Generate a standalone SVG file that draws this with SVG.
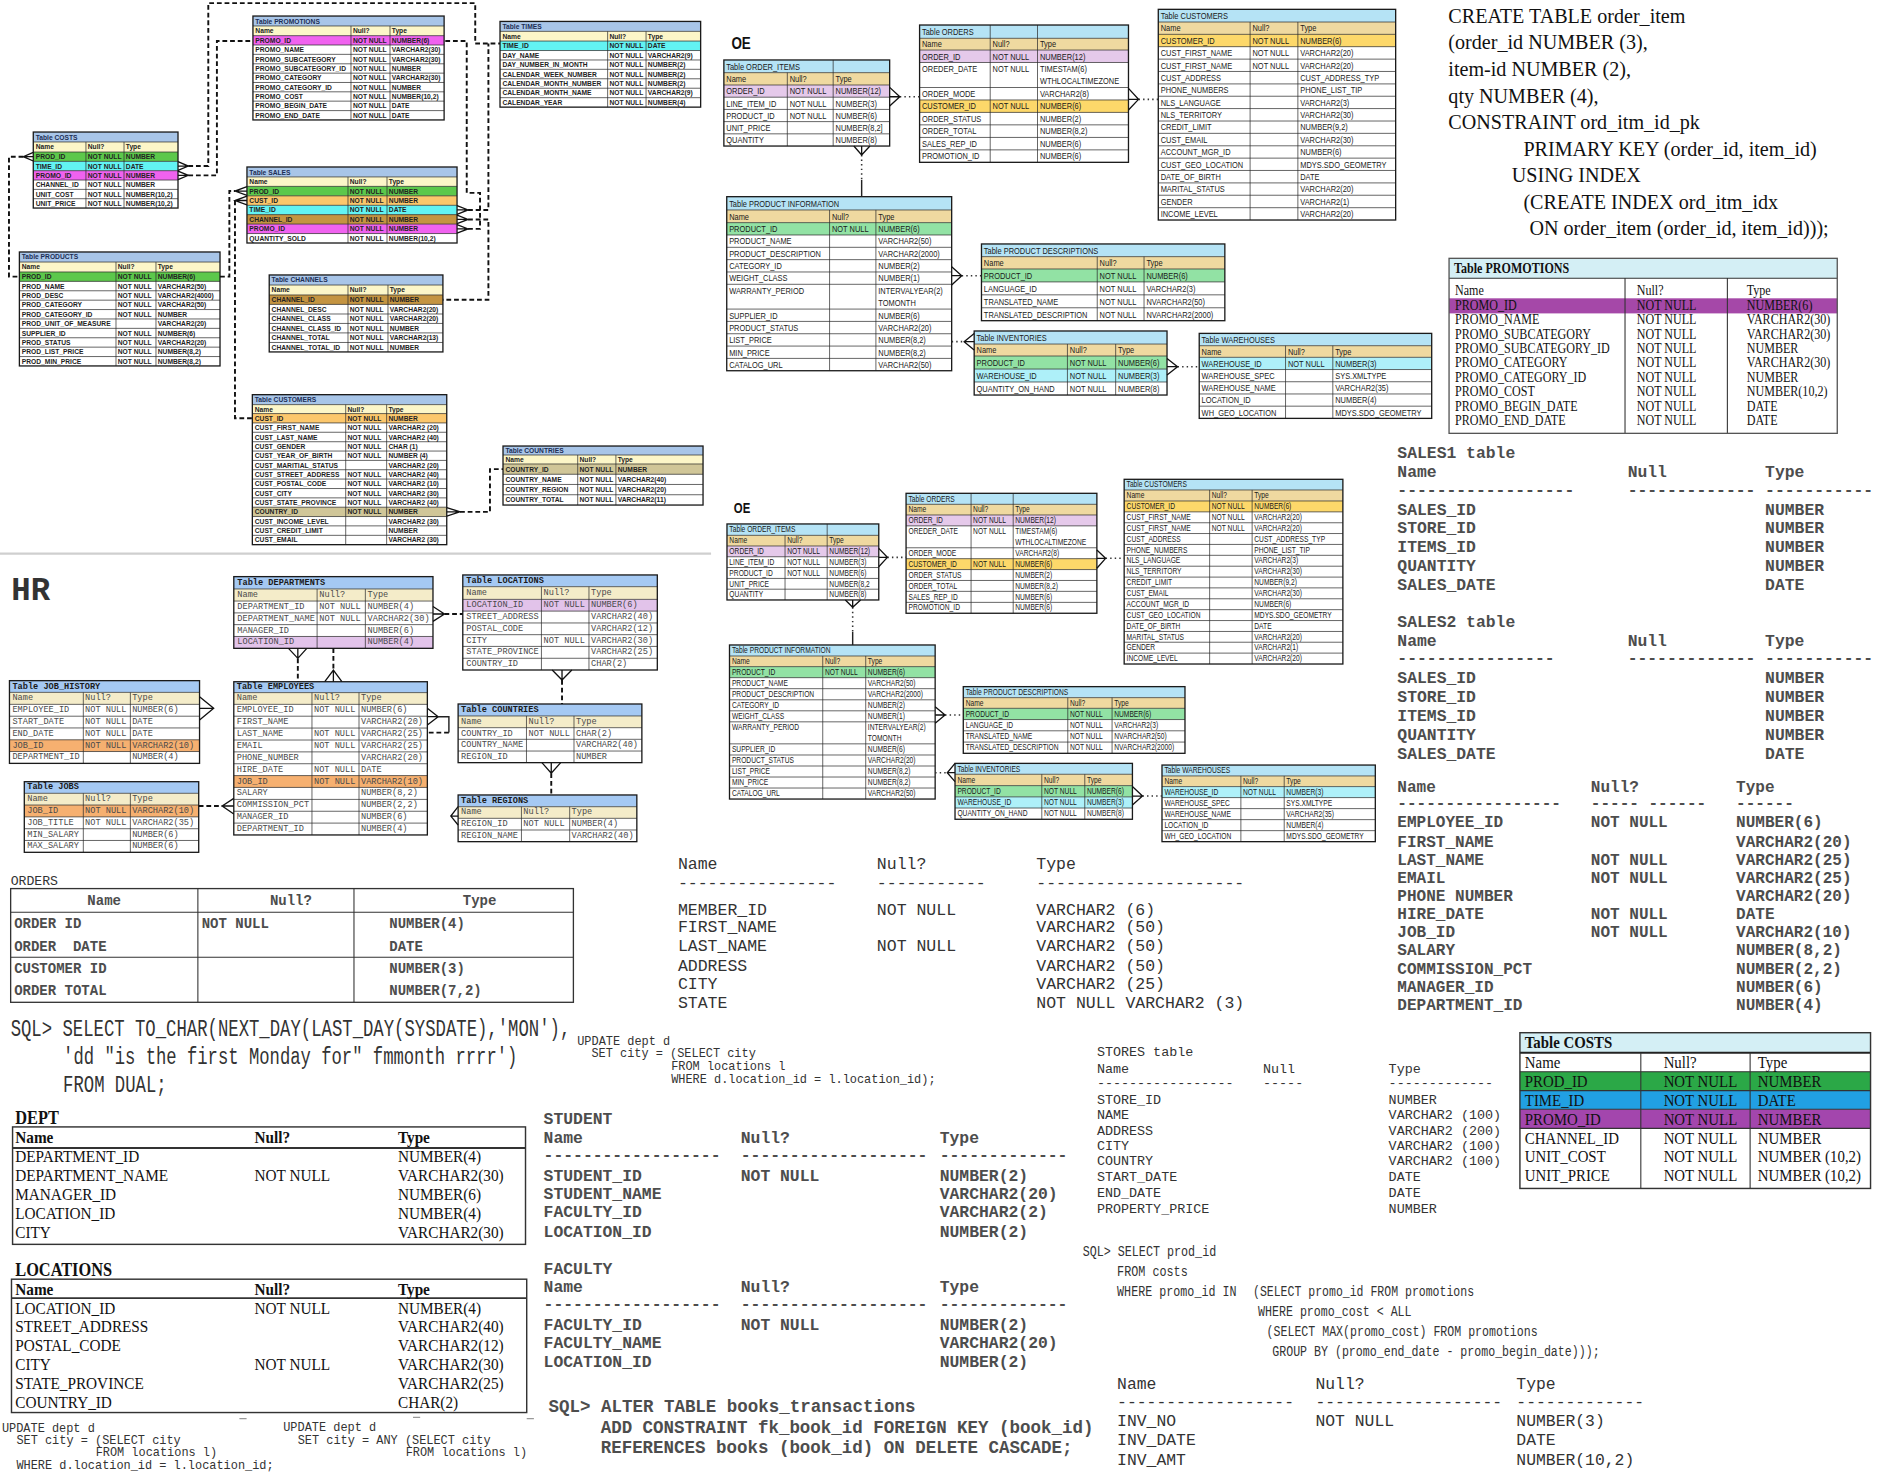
<svg xmlns="http://www.w3.org/2000/svg" width="1877" height="1479" viewBox="0 0 1877 1479">
<style>
text{dominant-baseline:central}
.s{font-family:"Liberation Sans",Arial,sans-serif;font-weight:bold;font-size:5.6px;fill:#222}
.h{font-family:"Liberation Mono","Courier New",monospace;font-size:7.2px;fill:#4a4a4a}
.hb{font-weight:bold;fill:#1a1a1a}
.o{font-family:"Liberation Sans",Arial,sans-serif;font-size:7.6px;fill:#1a1a1a}
.o2{font-size:6.8px}
.o text,.nar{transform-box:fill-box;transform-origin:0 50%;transform:scaleX(0.82)}
.bx{fill:none;stroke:#1a1a1a;stroke-width:1.1}
.gr{fill:none;stroke:#2a2a2a;stroke-width:0.6}
.shT{fill:#a8c5e8}.shH{fill:#fcf6c8}
.hT{fill:#a5c9f3}.hH{fill:#f4ecc9}
.oT{fill:#b5e3f5}.oH{fill:#efd9a0}
.cG{fill:#5cc84b}.cC{fill:#62f3f3}.cM{fill:#f062ef}.cO{fill:#fcc76c}.cB{fill:#c49441}.cK{fill:#d0c698}
.hL{fill:#e2c3ea}.hO{fill:#f6b070}
.oL{fill:#e5c9ea}.oY{fill:#fdd86a}.oG{fill:#92e2a4}.oC{fill:#aef0f9}
.dash{fill:none;stroke:#111;stroke-width:1.6;stroke-dasharray:4 2.4}
.dot{fill:none;stroke:#333;stroke-width:1.3;stroke-dasharray:1.2 2.6}
.cf{fill:none;stroke:#111;stroke-width:1.1}
.sol{fill:none;stroke:#222;stroke-width:1.2}
.m{font-family:"Liberation Mono","Courier New",monospace;fill:#333}
.mb{font-weight:bold;fill:#4d4d4d}
.tm{font-family:"Liberation Serif","Times New Roman",serif;fill:#111}
.ln{fill:none;stroke:#333;stroke-width:0.9}
</style>
<rect width="1877" height="1479" fill="#fff"/>
<g transform="scale(1.19707)">

<path d="M0,462.5H594" stroke="#cfcfcf" stroke-width="1.8"/>
<path d="M200,1185h6M345,1184h6M440,1185h6" stroke="#999" stroke-width="1"/>

<!-- ================= SH ================= -->
<g id="sh-promotions" transform="translate(211.3,13.4)">
<rect class="shT" width="159.7" height="8.3"/><rect class="shH" y="8.3" width="159.7" height="8.1"/><rect class="cM" y="16.4" width="159.7" height="7.8"/>
<path class="gr" d="M0,8.3H159.7M0,16.4H159.7M0,24.2H159.7M0,32H159.7M0,39.9H159.7M0,47.7H159.7M0,55.5H159.7M0,63.3H159.7M0,71.1H159.7M0,79H159.7M81.9,8.3V86.8M114.5,8.3V86.8"/>
<rect class="bx" width="159.7" height="86.8"/>
<g class="s">
<text x="2" y="4.2" fill="#1c2e55">Table PROMOTIONS</text>
<text x="2" y="12.4">Name</text><text x="83.5" y="12.4">Null?</text><text x="116" y="12.4">Type</text>
<text x="2" y="20.3">PROMO_ID</text><text x="83.5" y="20.3">NOT NULL</text><text x="116" y="20.3">NUMBER(6)</text>
<text x="2" y="28.1">PROMO_NAME</text><text x="83.5" y="28.1">NOT NULL</text><text x="116" y="28.1">VARCHAR2(30)</text>
<text x="2" y="36">PROMO_SUBCATEGORY</text><text x="83.5" y="36">NOT NULL</text><text x="116" y="36">VARCHAR2(30)</text>
<text x="2" y="43.8">PROMO_SUBCATEGORY_ID</text><text x="83.5" y="43.8">NOT NULL</text><text x="116" y="43.8">NUMBER</text>
<text x="2" y="51.6">PROMO_CATEGORY</text><text x="83.5" y="51.6">NOT NULL</text><text x="116" y="51.6">VARCHAR2(30)</text>
<text x="2" y="59.4">PROMO_CATEGORY_ID</text><text x="83.5" y="59.4">NOT NULL</text><text x="116" y="59.4">NUMBER</text>
<text x="2" y="67.2">PROMO_COST</text><text x="83.5" y="67.2">NOT NULL</text><text x="116" y="67.2">NUMBER(10,2)</text>
<text x="2" y="75">PROMO_BEGIN_DATE</text><text x="83.5" y="75">NOT NULL</text><text x="116" y="75">DATE</text>
<text x="2" y="82.9">PROMO_END_DATE</text><text x="83.5" y="82.9">NOT NULL</text><text x="116" y="82.9">DATE</text>
</g></g>

<g id="sh-times" transform="translate(417.7,17.9)">
<rect class="shT" width="167.6" height="8.3"/><rect class="shH" y="8.3" width="167.6" height="8.1"/><rect class="cC" y="16.4" width="167.6" height="7.9"/>
<path class="gr" d="M0,8.3H167.6M0,16.4H167.6M0,24.3H167.6M0,32.2H167.6M0,40H167.6M0,47.9H167.6M0,55.8H167.6M0,63.7H167.6M89.9,8.3V71.6M122,8.3V71.6"/>
<rect class="bx" width="167.6" height="71.6"/>
<g class="s">
<text x="2" y="4.2" fill="#1c2e55">Table TIMES</text>
<text x="2" y="12.4">Name</text><text x="91.4" y="12.4">Null?</text><text x="123.5" y="12.4">Type</text>
<text x="2" y="20.3">TIME_ID</text><text x="91.4" y="20.3">NOT NULL</text><text x="123.5" y="20.3">DATE</text>
<text x="2" y="28.2">DAY_NAME</text><text x="91.4" y="28.2">NOT NULL</text><text x="123.5" y="28.2">VARCHAR2(9)</text>
<text x="2" y="36.1">DAY_NUMBER_IN_MONTH</text><text x="91.4" y="36.1">NOT NULL</text><text x="123.5" y="36.1">NUMBER(2)</text>
<text x="2" y="44">CALENDAR_WEEK_NUMBER</text><text x="91.4" y="44">NOT NULL</text><text x="123.5" y="44">NUMBER(2)</text>
<text x="2" y="51.9">CALENDAR_MONTH_NUMBER</text><text x="91.4" y="51.9">NOT NULL</text><text x="123.5" y="51.9">NUMBER(2)</text>
<text x="2" y="59.7">CALENDAR_MONTH_NAME</text><text x="91.4" y="59.7">NOT NULL</text><text x="123.5" y="59.7">VARCHAR2(9)</text>
<text x="2" y="67.6">CALENDAR_YEAR</text><text x="91.4" y="67.6">NOT NULL</text><text x="123.5" y="67.6">NUMBER(4)</text>
</g></g>

<g id="sh-costs" transform="translate(27.8,110.3)">
<rect class="shT" width="120.9" height="8.3"/><rect class="shH" y="8.3" width="120.9" height="8.4"/>
<rect class="cG" y="16.7" width="120.9" height="7.8"/><rect class="cC" y="24.5" width="120.9" height="7.8"/><rect class="cM" y="32.3" width="120.9" height="7.8"/>
<path class="gr" d="M0,8.3H120.9M0,16.7H120.9M0,24.5H120.9M0,32.3H120.9M0,40.1H120.9M0,47.9H120.9M0,55.7H120.9M44,8.3V63.5M75.8,8.3V63.5"/>
<rect class="bx" width="120.9" height="63.5"/>
<g class="s">
<text x="2" y="4.2" fill="#1c2e55">Table COSTS</text>
<text x="2" y="12.5">Name</text><text x="45.5" y="12.5">Null?</text><text x="77.3" y="12.5">Type</text>
<text x="2" y="20.6">PROD_ID</text><text x="45.5" y="20.6">NOT NULL</text><text x="77.3" y="20.6">NUMBER</text>
<text x="2" y="28.4">TIME_ID</text><text x="45.5" y="28.4">NOT NULL</text><text x="77.3" y="28.4">DATE</text>
<text x="2" y="36.2">PROMO_ID</text><text x="45.5" y="36.2">NOT NULL</text><text x="77.3" y="36.2">NUMBER</text>
<text x="2" y="44">CHANNEL_ID</text><text x="45.5" y="44">NOT NULL</text><text x="77.3" y="44">NUMBER</text>
<text x="2" y="51.8">UNIT_COST</text><text x="45.5" y="51.8">NOT NULL</text><text x="77.3" y="51.8">NUMBER(10,2)</text>
<text x="2" y="59.6">UNIT_PRICE</text><text x="45.5" y="59.6">NOT NULL</text><text x="77.3" y="59.6">NUMBER(10,2)</text>
</g></g>

<g id="sh-sales" transform="translate(206.3,139.5)">
<rect class="shT" width="175.5" height="8.3"/><rect class="shH" y="8.3" width="175.5" height="7.9"/>
<rect class="cG" y="16.2" width="175.5" height="7.9"/><rect class="cO" y="24.1" width="175.5" height="7.9"/><rect class="cC" y="32" width="175.5" height="7.9"/><rect class="cB" y="39.8" width="175.5" height="7.9"/><rect class="cM" y="47.7" width="175.5" height="7.9"/>
<path class="gr" d="M0,8.3H175.5M0,16.2H175.5M0,24.1H175.5M0,32H175.5M0,39.8H175.5M0,47.7H175.5M0,55.6H175.5M84.4,8.3V63.5M117,8.3V63.5"/>
<rect class="bx" width="175.5" height="63.5"/>
<g class="s">
<text x="2" y="4.2" fill="#1c2e55">Table SALES</text>
<text x="2" y="12.3">Name</text><text x="85.9" y="12.3">Null?</text><text x="118.5" y="12.3">Type</text>
<text x="2" y="20.1">PROD_ID</text><text x="85.9" y="20.1">NOT NULL</text><text x="118.5" y="20.1">NUMBER</text>
<text x="2" y="28">CUST_ID</text><text x="85.9" y="28">NOT NULL</text><text x="118.5" y="28">NUMBER</text>
<text x="2" y="35.9">TIME_ID</text><text x="85.9" y="35.9">NOT NULL</text><text x="118.5" y="35.9">DATE</text>
<text x="2" y="43.8">CHANNEL_ID</text><text x="85.9" y="43.8">NOT NULL</text><text x="118.5" y="43.8">NUMBER</text>
<text x="2" y="51.7">PROMO_ID</text><text x="85.9" y="51.7">NOT NULL</text><text x="118.5" y="51.7">NUMBER</text>
<text x="2" y="59.5">QUANTITY_SOLD</text><text x="85.9" y="59.5">NOT NULL</text><text x="118.5" y="59.5">NUMBER(10,2)</text>
</g></g>

<g id="sh-products" transform="translate(16.2,210.5)">
<rect class="shT" width="167.6" height="8.4"/><rect class="shH" y="8.4" width="167.6" height="8.3"/><rect class="cG" y="16.7" width="167.6" height="7.85"/>
<path class="gr" d="M0,8.4H167.6M0,16.7H167.6M0,24.55H167.6M0,32.4H167.6M0,40.25H167.6M0,48.1H167.6M0,55.95H167.6M0,63.8H167.6M0,71.65H167.6M0,79.5H167.6M0,87.35H167.6M80.7,8.4V95.2M114.1,8.4V95.2"/>
<rect class="bx" width="167.6" height="95.2"/>
<g class="s">
<text x="2" y="4.2" fill="#1c2e55">Table PRODUCTS</text>
<text x="2" y="12.55">Name</text><text x="82.2" y="12.55">Null?</text><text x="115.6" y="12.55">Type</text>
<text x="2" y="20.6">PROD_ID</text><text x="82.2" y="20.6">NOT NULL</text><text x="115.6" y="20.6">NUMBER(6)</text>
<text x="2" y="28.5">PROD_NAME</text><text x="82.2" y="28.5">NOT NULL</text><text x="115.6" y="28.5">VARCHAR2(50)</text>
<text x="2" y="36.3">PROD_DESC</text><text x="82.2" y="36.3">NOT NULL</text><text x="115.6" y="36.3">VARCHAR2(4000)</text>
<text x="2" y="44.2">PROD_CATEGORY</text><text x="82.2" y="44.2">NOT NULL</text><text x="115.6" y="44.2">VARCHAR2(50)</text>
<text x="2" y="52">PROD_CATEGORY_ID</text><text x="82.2" y="52">NOT NULL</text><text x="115.6" y="52">NUMBER</text>
<text x="2" y="59.9">PROD_UNIT_OF_MEASURE</text><text x="115.6" y="59.9">VARCHAR2(20)</text>
<text x="2" y="67.7">SUPPLIER_ID</text><text x="82.2" y="67.7">NOT NULL</text><text x="115.6" y="67.7">NUMBER(6)</text>
<text x="2" y="75.6">PROD_STATUS</text><text x="82.2" y="75.6">NOT NULL</text><text x="115.6" y="75.6">VARCHAR2(20)</text>
<text x="2" y="83.4">PROD_LIST_PRICE</text><text x="82.2" y="83.4">NOT NULL</text><text x="115.6" y="83.4">NUMBER(8,2)</text>
<text x="2" y="91.3">PROD_MIN_PRICE</text><text x="82.2" y="91.3">NOT NULL</text><text x="115.6" y="91.3">NUMBER(8,2)</text>
</g></g>

<g id="sh-channels" transform="translate(224.9,229.7)">
<rect class="shT" width="145.1" height="8.4"/><rect class="shH" y="8.4" width="145.1" height="8.3"/><rect class="cB" y="16.7" width="145.1" height="7.93"/>
<path class="gr" d="M0,8.4H145.1M0,16.7H145.1M0,24.6H145.1M0,32.6H145.1M0,40.5H145.1M0,48.4H145.1M0,56.4H145.1M65.8,8.4V64.3M99.2,8.4V64.3"/>
<rect class="bx" width="145.1" height="64.3"/>
<g class="s">
<text x="2" y="4.2" fill="#1c2e55">Table CHANNELS</text>
<text x="2" y="12.55">Name</text><text x="67.3" y="12.55">Null?</text><text x="100.7" y="12.55">Type</text>
<text x="2" y="20.7">CHANNEL_ID</text><text x="67.3" y="20.7">NOT NULL</text><text x="100.7" y="20.7">NUMBER</text>
<text x="2" y="28.6">CHANNEL_DESC</text><text x="67.3" y="28.6">NOT NULL</text><text x="100.7" y="28.6">VARCHAR2(20)</text>
<text x="2" y="36.5">CHANNEL_CLASS</text><text x="67.3" y="36.5">NOT NULL</text><text x="100.7" y="36.5">VARCHAR2(20)</text>
<text x="2" y="44.4">CHANNEL_CLASS_ID</text><text x="67.3" y="44.4">NOT NULL</text><text x="100.7" y="44.4">NUMBER</text>
<text x="2" y="52.4">CHANNEL_TOTAL</text><text x="67.3" y="52.4">NOT NULL</text><text x="100.7" y="52.4">VARCHAR2(13)</text>
<text x="2" y="60.3">CHANNEL_TOTAL_ID</text><text x="67.3" y="60.3">NOT NULL</text><text x="100.7" y="60.3">NUMBER</text>
</g></g>

<g id="sh-customers" transform="translate(210.8,329.7)">
<rect class="shT" width="162.4" height="8.3"/><rect class="shH" y="8.3" width="162.4" height="7.5"/><rect class="cO" y="15.8" width="162.4" height="7.82"/><rect class="cK" y="94" width="162.4" height="7.82"/>
<path class="gr" d="M0,8.3H162.4M0,15.8H162.4M0,23.6H162.4M0,31.4H162.4M0,39.3H162.4M0,47.1H162.4M0,54.9H162.4M0,62.7H162.4M0,70.5H162.4M0,78.4H162.4M0,86.2H162.4M0,94H162.4M0,101.8H162.4M0,109.6H162.4M0,117.5H162.4M78,8.3V125.3M112.2,8.3V125.3"/>
<rect class="bx" width="162.4" height="125.3"/>
<g class="s">
<text x="2" y="4.15" fill="#1c2e55">Table CUSTOMERS</text>
<text x="2" y="12.05">Name</text><text x="79.5" y="12.05">Null?</text><text x="113.7" y="12.05">Type</text>
<text x="2" y="19.7">CUST_ID</text><text x="79.5" y="19.7">NOT NULL</text><text x="113.7" y="19.7">NUMBER</text>
<text x="2" y="27.5">CUST_FIRST_NAME</text><text x="79.5" y="27.5">NOT NULL</text><text x="113.7" y="27.5">VARCHAR2 (20)</text>
<text x="2" y="35.4">CUST_LAST_NAME</text><text x="79.5" y="35.4">NOT NULL</text><text x="113.7" y="35.4">VARCHAR2 (40)</text>
<text x="2" y="43.2">CUST_GENDER</text><text x="79.5" y="43.2">NOT NULL</text><text x="113.7" y="43.2">CHAR (1)</text>
<text x="2" y="51">CUST_YEAR_OF_BIRTH</text><text x="79.5" y="51">NOT NULL</text><text x="113.7" y="51">NUMBER (4)</text>
<text x="2" y="58.8">CUST_MARITIAL_STATUS</text><text x="113.7" y="58.8">VARCHAR2 (20)</text>
<text x="2" y="66.6">CUST_STREET_ADDRESS</text><text x="79.5" y="66.6">NOT NULL</text><text x="113.7" y="66.6">VARCHAR2 (40)</text>
<text x="2" y="74.5">CUST_POSTAL_CODE</text><text x="79.5" y="74.5">NOT NULL</text><text x="113.7" y="74.5">VARCHAR2 (10)</text>
<text x="2" y="82.3">CUST_CITY</text><text x="79.5" y="82.3">NOT NULL</text><text x="113.7" y="82.3">VARCHAR2 (30)</text>
<text x="2" y="90.1">CUST_STATE_PROVINCE</text><text x="79.5" y="90.1">NOT NULL</text><text x="113.7" y="90.1">VARCHAR2 (40)</text>
<text x="2" y="97.9">COUNTRY_ID</text><text x="79.5" y="97.9">NOT NULL</text><text x="113.7" y="97.9">NUMBER</text>
<text x="2" y="105.7">CUST_INCOME_LEVEL</text><text x="113.7" y="105.7">VARCHAR2 (30)</text>
<text x="2" y="113.6">CUST_CREDIT_LIMIT</text><text x="113.7" y="113.6">NUMBER</text>
<text x="2" y="121.4">CUST_EMAIL</text><text x="113.7" y="121.4">VARCHAR2 (30)</text>
</g></g>

<g id="sh-countries" transform="translate(420.2,372.6)">
<rect class="shT" width="167.1" height="7.5"/><rect class="shH" y="7.5" width="167.1" height="7.5"/><rect class="cK" y="15" width="167.1" height="8.6"/>
<path class="gr" d="M0,7.5H167.1M0,15H167.1M0,23.6H167.1M0,32.1H167.1M0,40.7H167.1M62.4,7.5V49.3M94.3,7.5V49.3"/>
<rect class="bx" width="167.1" height="49.3"/>
<g class="s">
<text x="2" y="3.75" fill="#1c2e55">Table COUNTRIES</text>
<text x="2" y="11.25">Name</text><text x="63.9" y="11.25">Null?</text><text x="95.8" y="11.25">Type</text>
<text x="2" y="19.3">COUNTRY_ID</text><text x="63.9" y="19.3">NOT NULL</text><text x="95.8" y="19.3">NUMBER</text>
<text x="2" y="27.9">COUNTRY_NAME</text><text x="63.9" y="27.9">NOT NULL</text><text x="95.8" y="27.9">VARCHAR2(40)</text>
<text x="2" y="36.4">COUNTRY_REGION</text><text x="63.9" y="36.4">NOT NULL</text><text x="95.8" y="36.4">VARCHAR2(20)</text>
<text x="2" y="45">COUNTRY_TOTAL</text><text x="63.9" y="45">NOT NULL</text><text x="95.8" y="45">VARCHAR2(11)</text>
</g></g>

<!-- ================= HR ================= -->
<text class="m" x="9.5" y="494" font-size="27" font-weight="bold" fill="#111">HR</text>

<g id="hr-departments" transform="translate(195.3,481.7)">
<rect class="hT" width="166.4" height="10.3"/><rect class="hH" y="10.3" width="166.4" height="10.1"/><rect class="hL" y="50" width="166.4" height="9.9"/>
<path class="gr" d="M0,10.3H166.4M0,20.4H166.4M0,30.3H166.4M0,40.1H166.4M0,50H166.4M69.6,10.3V59.9M109.9,10.3V59.9"/>
<rect class="bx" width="166.4" height="59.9"/>
<g class="h">
<text class="hb" x="3" y="5.15">Table DEPARTMENTS</text>
<text x="3" y="15.35">Name</text><text x="71.5" y="15.35">Null?</text><text x="111.8" y="15.35">Type</text>
<text x="3" y="25.3">DEPARTMENT_ID</text><text x="71.5" y="25.3">NOT NULL</text><text x="111.8" y="25.3">NUMBER(4)</text>
<text x="3" y="35.2">DEPARTMENT_NAME</text><text x="71.5" y="35.2">NOT NULL</text><text x="111.8" y="35.2">VARCHAR2(30)</text>
<text x="3" y="45.1">MANAGER_ID</text><text x="111.8" y="45.1">NUMBER(6)</text>
<text x="3" y="54.9">LOCATION_ID</text><text x="111.8" y="54.9">NUMBER(4)</text>
</g></g>

<g id="hr-locations" transform="translate(386.6,480.3)">
<rect class="hT" width="162.5" height="9.8"/><rect class="hH" y="9.8" width="162.5" height="10.6"/><rect class="hL" y="20.4" width="162.5" height="9.83"/>
<path class="gr" d="M0,9.8H162.5M0,20.4H162.5M0,30.2H162.5M0,40.1H162.5M0,49.9H162.5M0,59.7H162.5M0,69.6H162.5M65.7,9.8V79.4M105.4,9.8V79.4"/>
<rect class="bx" width="162.5" height="79.4"/>
<g class="h">
<text class="hb" x="3" y="4.9">Table LOCATIONS</text>
<text x="3" y="15.1">Name</text><text x="67.5" y="15.1">Null?</text><text x="107.2" y="15.1">Type</text>
<text x="3" y="25.3">LOCATION_ID</text><text x="67.5" y="25.3">NOT NULL</text><text x="107.2" y="25.3">NUMBER(6)</text>
<text x="3" y="35.2">STREET_ADDRESS</text><text x="107.2" y="35.2">VARCHAR2(40)</text>
<text x="3" y="45">POSTAL_CODE</text><text x="107.2" y="45">VARCHAR2(12)</text>
<text x="3" y="54.8">CITY</text><text x="67.5" y="54.8">NOT NULL</text><text x="107.2" y="54.8">VARCHAR2(30)</text>
<text x="3" y="64.7">STATE_PROVINCE</text><text x="107.2" y="64.7">VARCHAR2(25)</text>
<text x="3" y="74.5">COUNTRY_ID</text><text x="107.2" y="74.5">CHAR(2)</text>
</g></g>

<g id="hr-job-history" transform="translate(7.9,568.6)">
<rect class="hT" width="158.8" height="9.8"/><rect class="hH" y="9.8" width="158.8" height="10"/><rect class="hO" y="49.4" width="158.8" height="9.8"/>
<path class="gr" d="M0,9.8H158.8M0,19.8H158.8M0,29.7H158.8M0,39.5H158.8M0,49.4H158.8M0,59.2H158.8M61.7,9.8V69.1M101,9.8V69.1"/>
<rect class="bx" width="158.8" height="69.1"/>
<g class="h">
<text class="hb" x="2.5" y="4.9">Table JOB_HISTORY</text>
<text x="2.5" y="14.8">Name</text><text x="63.2" y="14.8">Null?</text><text x="102.5" y="14.8">Type</text>
<text x="2.5" y="24.7">EMPLOYEE_ID</text><text x="63.2" y="24.7">NOT NULL</text><text x="102.5" y="24.7">NUMBER(6)</text>
<text x="2.5" y="34.6">START_DATE</text><text x="63.2" y="34.6">NOT NULL</text><text x="102.5" y="34.6">DATE</text>
<text x="2.5" y="44.5">END_DATE</text><text x="63.2" y="44.5">NOT NULL</text><text x="102.5" y="44.5">DATE</text>
<text x="2.5" y="54.3">JOB_ID</text><text x="63.2" y="54.3">NOT NULL</text><text x="102.5" y="54.3">VARCHAR2(10)</text>
<text x="2.5" y="64.2">DEPARTMENT_ID</text><text x="102.5" y="64.2">NUMBER(4)</text>
</g></g>

<g id="hr-employees" transform="translate(195.3,569.5)">
<rect class="hT" width="161.7" height="9.1"/><rect class="hH" y="9.1" width="161.7" height="9.8"/><rect class="hO" y="78.4" width="161.7" height="9.9"/>
<path class="gr" d="M0,9.1H161.7M0,18.9H161.7M0,28.8H161.7M0,38.7H161.7M0,48.7H161.7M0,58.6H161.7M0,68.5H161.7M0,78.4H161.7M0,88.3H161.7M0,98.3H161.7M0,108.2H161.7M0,118.1H161.7M65.3,9.1V128M104.6,9.1V128"/>
<rect class="bx" width="161.7" height="128"/>
<g class="h">
<text class="hb" x="2.5" y="4.55">Table EMPLOYEES</text>
<text x="2.5" y="13.9">Name</text><text x="67" y="13.9">Null?</text><text x="106.3" y="13.9">Type</text>
<text x="2.5" y="23.9">EMPLOYEE_ID</text><text x="67" y="23.9">NOT NULL</text><text x="106.3" y="23.9">NUMBER(6)</text>
<text x="2.5" y="33.8">FIRST_NAME</text><text x="106.3" y="33.8">VARCHAR2(20)</text>
<text x="2.5" y="43.7">LAST_NAME</text><text x="67" y="43.7">NOT NULL</text><text x="106.3" y="43.7">VARCHAR2(25)</text>
<text x="2.5" y="53.6">EMAIL</text><text x="67" y="53.6">NOT NULL</text><text x="106.3" y="53.6">VARCHAR2(25)</text>
<text x="2.5" y="63.5">PHONE_NUMBER</text><text x="106.3" y="63.5">VARCHAR2(20)</text>
<text x="2.5" y="73.5">HIRE_DATE</text><text x="67" y="73.5">NOT NULL</text><text x="106.3" y="73.5">DATE</text>
<text x="2.5" y="83.4">JOB_ID</text><text x="67" y="83.4">NOT NULL</text><text x="106.3" y="83.4">VARCHAR2(10)</text>
<text x="2.5" y="93.3">SALARY</text><text x="106.3" y="93.3">NUMBER(8,2)</text>
<text x="2.5" y="103.2">COMMISSION_PCT</text><text x="106.3" y="103.2">NUMBER(2,2)</text>
<text x="2.5" y="113.1">MANAGER_ID</text><text x="106.3" y="113.1">NUMBER(6)</text>
<text x="2.5" y="123">DEPARTMENT_ID</text><text x="106.3" y="123">NUMBER(4)</text>
</g></g>

<g id="hr-countries" transform="translate(382.7,588.1)">
<rect class="hT" width="153.5" height="10"/><rect class="hH" y="10" width="153.5" height="9.8"/>
<path class="gr" d="M0,10H153.5M0,19.8H153.5M0,29.5H153.5M0,39.3H153.5M57.1,10V49M96.8,10V49"/>
<rect class="bx" width="153.5" height="49"/>
<g class="h">
<text class="hb" x="2.5" y="5">Table COUNTRIES</text>
<text x="2.5" y="14.9">Name</text><text x="58.8" y="14.9">Null?</text><text x="98.5" y="14.9">Type</text>
<text x="2.5" y="24.7">COUNTRY_ID</text><text x="58.8" y="24.7">NOT NULL</text><text x="98.5" y="24.7">CHAR(2)</text>
<text x="2.5" y="34.4">COUNTRY_NAME</text><text x="98.5" y="34.4">VARCHAR2(40)</text>
<text x="2.5" y="44.1">REGION_ID</text><text x="98.5" y="44.1">NUMBER</text>
</g></g>

<g id="hr-jobs" transform="translate(20.3,653)">
<rect class="hT" width="145.7" height="9.7"/><rect class="hH" y="9.7" width="145.7" height="9.8"/><rect class="hO" y="19.5" width="145.7" height="9.9"/>
<path class="gr" d="M0,9.7H145.7M0,19.5H145.7M0,29.4H145.7M0,39.3H145.7M0,49.1H145.7M49.3,9.7V59M88.6,9.7V59"/>
<rect class="bx" width="145.7" height="59"/>
<g class="h">
<text class="hb" x="2.5" y="4.85">Table JOBS</text>
<text x="2.5" y="14.6">Name</text><text x="50.8" y="14.6">Null?</text><text x="90.1" y="14.6">Type</text>
<text x="2.5" y="24.5">JOB_ID</text><text x="50.8" y="24.5">NOT NULL</text><text x="90.1" y="24.5">VARCHAR2(10)</text>
<text x="2.5" y="34.3">JOB_TITLE</text><text x="50.8" y="34.3">NOT NULL</text><text x="90.1" y="34.3">VARCHAR2(35)</text>
<text x="2.5" y="44.2">MIN_SALARY</text><text x="90.1" y="44.2">NUMBER(6)</text>
<text x="2.5" y="54.1">MAX_SALARY</text><text x="90.1" y="54.1">NUMBER(6)</text>
</g></g>

<g id="hr-regions" transform="translate(382.7,664.1)">
<rect class="hT" width="149.3" height="9.8"/><rect class="hH" y="9.8" width="149.3" height="9.7"/>
<path class="gr" d="M0,9.8H149.3M0,19.5H149.3M0,29.25H149.3M52.9,9.8V39M93.2,9.8V39"/>
<rect class="bx" width="149.3" height="39"/>
<g class="h">
<text class="hb" x="2.5" y="4.9">Table REGIONS</text>
<text x="2.5" y="14.6">Name</text><text x="54.5" y="14.6">Null?</text><text x="94.8" y="14.6">Type</text>
<text x="2.5" y="24.4">REGION_ID</text><text x="54.5" y="24.4">NOT NULL</text><text x="94.8" y="24.4">NUMBER(4)</text>
<text x="2.5" y="34.1">REGION_NAME</text><text x="94.8" y="34.1">VARCHAR2(40)</text>
</g></g>

<!-- ================= OE top ================= -->
<text class="nar" x="611" y="35.5" font-family="'Liberation Sans',sans-serif" font-weight="bold" font-size="13.7" fill="#111">OE</text>

<g id="oe-order-items" transform="translate(604.7,50.1)">
<rect class="oT" width="138.5" height="10.6"/><rect class="oH" y="10.6" width="138.5" height="10.3"/><rect class="oL" y="20.9" width="138.5" height="10.2"/>
<path class="gr" d="M0,10.6H138.5M0,20.9H138.5M0,31.1H138.5M0,41.3H138.5M0,51.5H138.5M0,61.7H138.5M53,10.6V71.9M91.3,0V71.9"/>
<rect class="bx" width="138.5" height="71.9"/>
<g class="o">
<text x="2" y="5.3">Table ORDER_ITEMS</text>
<text x="2" y="15.75">Name</text><text x="55" y="15.75">Null?</text><text x="93.3" y="15.75">Type</text>
<text x="2" y="26">ORDER_ID</text><text x="55" y="26">NOT NULL</text><text x="93.3" y="26">NUMBER(12)</text>
<text x="2" y="36.2">LINE_ITEM_ID</text><text x="55" y="36.2">NOT NULL</text><text x="93.3" y="36.2">NUMBER(3)</text>
<text x="2" y="46.4">PRODUCT_ID</text><text x="55" y="46.4">NOT NULL</text><text x="93.3" y="46.4">NUMBER(6)</text>
<text x="2" y="56.6">UNIT_PRICE</text><text x="93.3" y="56.6">NUMBER(8,2]</text>
<text x="2" y="66.8">QUANTITY</text><text x="93.3" y="66.8">NUMBER(8)</text>
</g></g>

<g id="oe-orders" transform="translate(768.2,20.9)">
<rect class="oT" width="174.5" height="11.1"/><rect class="oH" y="11.1" width="174.5" height="9.8"/><rect class="oL" y="20.9" width="174.5" height="10.4"/><rect class="oY" y="62.6" width="174.5" height="10.4"/>
<path class="gr" d="M0,11.1H174.5M0,20.9H174.5M0,31.3H174.5M0,52.2H174.5M0,62.6H174.5M0,73H174.5M0,83.4H174.5M0,93.9H174.5M0,104.3H174.5M59,0V114.7M98.5,0V114.7"/>
<rect class="bx" width="174.5" height="114.7"/>
<g class="o">
<text x="2" y="5.55">Table ORDERS</text>
<text x="2" y="16">Name</text><text x="61" y="16">Null?</text><text x="100.5" y="16">Type</text>
<text x="2" y="26.1">ORDER_ID</text><text x="61" y="26.1">NOT NULL</text><text x="100.5" y="26.1">NUMBER(12)</text>
<text x="2" y="36.5">OREDER_DATE</text><text x="61" y="36.5">NOT NULL</text><text x="100.5" y="36.5">TIMESTAM(6)</text>
<text x="100.5" y="46.9">WTHLOCALTIMEZONE</text>
<text x="2" y="57.4">ORDER_MODE</text><text x="100.5" y="57.4">VARCHAR2(8)</text>
<text x="2" y="67.8">CUSTOMER_ID</text><text x="61" y="67.8">NOT NULL</text><text x="100.5" y="67.8">NUMBER(6)</text>
<text x="2" y="78.2">ORDER_STATUS</text><text x="100.5" y="78.2">NUMBER(2)</text>
<text x="2" y="88.7">ORDER_TOTAL</text><text x="100.5" y="88.7">NUMBER(8,2)</text>
<text x="2" y="99.1">SALES_REP_ID</text><text x="100.5" y="99.1">NUMBER(6)</text>
<text x="2" y="109.5">PROMOTION_ID</text><text x="100.5" y="109.5">NUMBER(6)</text>
</g></g>

<g id="oe-customers" transform="translate(967.6,7.8)">
<rect class="oT" width="198.3" height="10.6"/><rect class="oH" y="10.6" width="198.3" height="10.3"/><rect class="oY" y="20.9" width="198.3" height="10.34"/>
<path class="gr" d="M0,10.6H198.3M0,20.9H198.3M0,31.2H198.3M0,41.6H198.3M0,51.9H198.3M0,62.3H198.3M0,72.6H198.3M0,82.9H198.3M0,93.3H198.3M0,103.6H198.3M0,114H198.3M0,124.3H198.3M0,134.6H198.3M0,145H198.3M0,155.3H198.3M0,165.7H198.3M76.7,10.6V176M116.6,10.6V176"/>
<rect class="bx" width="198.3" height="176"/>
<g class="o">
<text x="2" y="5.3">Table CUSTOMERS</text>
<text x="2" y="15.75">Name</text><text x="78.7" y="15.75">Null?</text><text x="118.6" y="15.75">Type</text>
<text x="2" y="26.1">CUSTOMER_ID</text><text x="78.7" y="26.1">NOT NULL</text><text x="118.6" y="26.1">NUMBER(6)</text>
<text x="2" y="36.4">CUST_FIRST_NAME</text><text x="78.7" y="36.4">NOT NULL</text><text x="118.6" y="36.4">VARCHAR2(20)</text>
<text x="2" y="46.7">CUST_FIRST_NAME</text><text x="78.7" y="46.7">NOT NULL</text><text x="118.6" y="46.7">VARCHAR2(20)</text>
<text x="2" y="57.1">CUST_ADDRESS</text><text x="118.6" y="57.1">CUST_ADDRESS_TYP</text>
<text x="2" y="67.4">PHONE_NUMBERS</text><text x="118.6" y="67.4">PHONE_LIST_TIP</text>
<text x="2" y="77.8">NLS_LANGUAGE</text><text x="118.6" y="77.8">VARCHAR2(3)</text>
<text x="2" y="88.1">NLS_TERRITORY</text><text x="118.6" y="88.1">VARCHAR2(30)</text>
<text x="2" y="98.4">CREDIT_LIMIT</text><text x="118.6" y="98.4">NUMBER(9,2)</text>
<text x="2" y="108.8">CUST_EMAIL</text><text x="118.6" y="108.8">VARCHAR2(30)</text>
<text x="2" y="119.1">ACCOUNT_MGR_ID</text><text x="118.6" y="119.1">NUMBER(6)</text>
<text x="2" y="129.5">CUST_GEO_LOCATION</text><text x="118.6" y="129.5">MDYS.SDO_GEOMETRY</text>
<text x="2" y="139.8">DATE_OF_BIRTH</text><text x="118.6" y="139.8">DATE</text>
<text x="2" y="150.1">MARITAL_STATUS</text><text x="118.6" y="150.1">VARCHAR2(20)</text>
<text x="2" y="160.5">GENDER</text><text x="118.6" y="160.5">VARCHAR2(1)</text>
<text x="2" y="170.8">INCOME_LEVEL</text><text x="118.6" y="170.8">VARCHAR2(20)</text>
</g></g>

<g id="oe-product-information" transform="translate(607.1,164.3)">
<rect class="oT" width="187.9" height="11.1"/><rect class="oH" y="11.1" width="187.9" height="10.6"/><rect class="oG" y="21.7" width="187.9" height="10.31"/>
<path class="gr" d="M0,11.1H187.9M0,21.7H187.9M0,32H187.9M0,42.3H187.9M0,52.6H187.9M0,62.9H187.9M0,73.2H187.9M0,93.9H187.9M0,104.2H187.9M0,114.5H187.9M0,124.8H187.9M0,135.1H187.9M85.9,11.1V145.4M124.6,11.1V145.4"/>
<rect class="bx" width="187.9" height="145.4"/>
<g class="o">
<text x="2" y="5.55">Table PRODUCT INFORMATION</text>
<text x="2" y="16.4">Name</text><text x="87.9" y="16.4">Null?</text><text x="126.6" y="16.4">Type</text>
<text x="2" y="26.85">PRODUCT_ID</text><text x="87.9" y="26.85">NOT NULL</text><text x="126.6" y="26.85">NUMBER(6)</text>
<text x="2" y="37.15">PRODUCT_NAME</text><text x="126.6" y="37.15">VARCHAR2(50)</text>
<text x="2" y="47.45">PRODUCT_DESCRIPTION</text><text x="126.6" y="47.45">VARCHAR2(2000)</text>
<text x="2" y="57.75">CATEGORY_ID</text><text x="126.6" y="57.75">NUMBER(2)</text>
<text x="2" y="68.05">WEIGHT_CLASS</text><text x="126.6" y="68.05">NUMBER(1)</text>
<text x="2" y="78.35">WARRANTY_PERIOD</text><text x="126.6" y="78.35">INTERVALYEAR(2)</text>
<text x="126.6" y="88.65">TOMONTH</text>
<text x="2" y="99.05">SUPPLIER_ID</text><text x="126.6" y="99.05">NUMBER(6)</text>
<text x="2" y="109.35">PRODUCT_STATUS</text><text x="126.6" y="109.35">VARCHAR2(20)</text>
<text x="2" y="119.65">LIST_PRICE</text><text x="126.6" y="119.65">NUMBER(8,2)</text>
<text x="2" y="129.95">MIN_PRICE</text><text x="126.6" y="129.95">NUMBER(8,2)</text>
<text x="2" y="140.25">CATALOG_URL</text><text x="126.6" y="140.25">VARCHAR2(50)</text>
</g></g>

<g id="oe-product-descriptions" transform="translate(819.9,203.8)">
<rect class="oT" width="203.3" height="10.6"/><rect class="oH" y="10.6" width="203.3" height="10.3"/><rect class="oG" y="20.9" width="203.3" height="10.8"/>
<path class="gr" d="M0,10.6H203.3M0,20.9H203.3M0,31.7H203.3M0,42.5H203.3M0,53.3H203.3M96.7,10.6V64.1M135.8,10.6V64.1"/>
<rect class="bx" width="203.3" height="64.1"/>
<g class="o">
<text x="2" y="5.3">Table PRODUCT DESCRIPTIONS</text>
<text x="2" y="15.75">Name</text><text x="98.7" y="15.75">Null?</text><text x="137.8" y="15.75">Type</text>
<text x="2" y="26.3">PRODUCT_ID</text><text x="98.7" y="26.3">NOT NULL</text><text x="137.8" y="26.3">NUMBER(6)</text>
<text x="2" y="37.1">LANGUAGE_ID</text><text x="98.7" y="37.1">NOT NULL</text><text x="137.8" y="37.1">VARCHAR2(3)</text>
<text x="2" y="47.9">TRANSLATED_NAME</text><text x="98.7" y="47.9">NOT NULL</text><text x="137.8" y="47.9">NVARCHAR2(50)</text>
<text x="2" y="58.7">TRANSLATED_DESCRIPTION</text><text x="98.7" y="58.7">NOT NULL</text><text x="137.8" y="58.7">NVARCHAR2(2000)</text>
</g></g>

<g id="oe-inventories" transform="translate(813.8,276.5)">
<rect class="oT" width="161.1" height="10.9"/><rect class="oH" y="10.9" width="161.1" height="10"/><rect class="oG" y="20.9" width="161.1" height="10.9"/><rect class="oC" y="31.8" width="161.1" height="10.8"/>
<path class="gr" d="M0,10.9H161.1M0,20.9H161.1M0,31.8H161.1M0,42.6H161.1M77.9,10.9V53.5M118.2,10.9V53.5"/>
<rect class="bx" width="161.1" height="53.5"/>
<g class="o">
<text x="2" y="5.45">Table INVENTORIES</text>
<text x="2" y="15.9">Name</text><text x="79.9" y="15.9">Null?</text><text x="120.2" y="15.9">Type</text>
<text x="2" y="26.3">PRODUCT_ID</text><text x="79.9" y="26.3">NOT NULL</text><text x="120.2" y="26.3">NUMBER(6)</text>
<text x="2" y="37.2">WAREHOUSE_ID</text><text x="79.9" y="37.2">NOT NULL</text><text x="120.2" y="37.2">NUMBER(3)</text>
<text x="2" y="48.1">QUANTITY_ON_HAND</text><text x="79.9" y="48.1">NOT NULL</text><text x="120.2" y="48.1">NUMBER(8)</text>
</g></g>

<g id="oe-warehouses" transform="translate(1001.8,278.5)">
<rect class="oT" width="194.2" height="10.3"/><rect class="oH" y="10.3" width="194.2" height="9.7"/><rect class="oC" y="20" width="194.2" height="10.2"/>
<path class="gr" d="M0,10.3H194.2M0,20H194.2M0,30.2H194.2M0,40.4H194.2M0,50.6H194.2M0,60.8H194.2M72.1,10.3V71M111.6,10.3V71"/>
<rect class="bx" width="194.2" height="71"/>
<g class="o">
<text x="2" y="5.15">Table WAREHOUSES</text>
<text x="2" y="15">Name</text><text x="74.1" y="15">Null?</text><text x="113.6" y="15">Type</text>
<text x="2" y="25.1">WAREHOUSE_ID</text><text x="74.1" y="25.1">NOT NULL</text><text x="113.6" y="25.1">NUMBER(3)</text>
<text x="2" y="35.3">WAREHOUSE_SPEC</text><text x="113.6" y="35.3">SYS.XMLTYPE</text>
<text x="2" y="45.5">WAREHOUSE_NAME</text><text x="113.6" y="45.5">VARCHAR2(35)</text>
<text x="2" y="55.7">LOCATION_ID</text><text x="113.6" y="55.7">NUMBER(4)</text>
<text x="2" y="65.9">WH_GEO_LOCATION</text><text x="113.6" y="65.9">MDYS.SDO_GEOMETRY</text>
</g></g>

<!-- ================= OE bottom ================= -->
<text class="nar" x="613" y="424.7" font-family="'Liberation Sans',sans-serif" font-weight="bold" font-size="11.6" fill="#111">OE</text>

<g id="oe2-order-items" transform="translate(607.3,437.7)">
<rect class="oT" width="126.8" height="9.5"/><rect class="oH" y="9.5" width="126.8" height="8.9"/><rect class="oL" y="18.4" width="126.8" height="9"/>
<path class="gr" d="M0,9.5H126.8M0,18.4H126.8M0,27.4H126.8M0,36.4H126.8M0,45.5H126.8M0,54.5H126.8M48.5,9.5V63.5M83.7,0V63.5"/>
<rect class="bx" width="126.8" height="63.5"/>
<g class="o o2">
<text x="2" y="4.75">Table ORDER_ITEMS</text>
<text x="2" y="13.95">Name</text><text x="50.3" y="13.95">Null?</text><text x="85.5" y="13.95">Type</text>
<text x="2" y="22.9">ORDER_ID</text><text x="50.3" y="22.9">NOT NULL</text><text x="85.5" y="22.9">NUMBER(12)</text>
<text x="2" y="31.9">LINE_ITEM_ID</text><text x="50.3" y="31.9">NOT NULL</text><text x="85.5" y="31.9">NUMBER(3)</text>
<text x="2" y="41">PRODUCT_ID</text><text x="50.3" y="41">NOT NULL</text><text x="85.5" y="41">NUMBER(6)</text>
<text x="2" y="50">UNIT_PRICE</text><text x="85.5" y="50">NUMBER(8,2</text>
<text x="2" y="59">QUANTITY</text><text x="85.5" y="59">NUMBER(8)</text>
</g></g>

<g id="oe2-orders" transform="translate(756.9,412.1)">
<rect class="oT" width="159.4" height="9.2"/><rect class="oH" y="9.2" width="159.4" height="8.9"/><rect class="oL" y="18.1" width="159.4" height="9.1"/><rect class="oY" y="54.6" width="159.4" height="9.1"/>
<path class="gr" d="M0,9.2H159.4M0,18.1H159.4M0,27.2H159.4M0,45.5H159.4M0,54.6H159.4M0,63.7H159.4M0,72.8H159.4M0,81.9H159.4M0,91.1H159.4M54.3,0V100.2M89.5,0V100.2"/>
<rect class="bx" width="159.4" height="100.2"/>
<g class="o o2">
<text x="2" y="4.6">Table ORDERS</text>
<text x="2" y="13.65">Name</text><text x="56" y="13.65">Null?</text><text x="91.2" y="13.65">Type</text>
<text x="2" y="22.65">ORDER_ID</text><text x="56" y="22.65">NOT NULL</text><text x="91.2" y="22.65">NUMBER(12)</text>
<text x="2" y="31.8">OREDER_DATE</text><text x="56" y="31.8">NOT NULL</text><text x="91.2" y="31.8">TIMESTAM(6)</text>
<text x="91.2" y="40.9">WTHLOCALTIMEZONE</text>
<text x="2" y="50">ORDER_MODE</text><text x="91.2" y="50">VARCHAR2(8)</text>
<text x="2" y="59.1">CUSTOMER_ID</text><text x="56" y="59.1">NOT NULL</text><text x="91.2" y="59.1">NUMBER(6)</text>
<text x="2" y="68.25">ORDER_STATUS</text><text x="91.2" y="68.25">NUMBER(2)</text>
<text x="2" y="77.35">ORDER_TOTAL</text><text x="91.2" y="77.35">NUMBER(8,2)</text>
<text x="2" y="86.5">SALES_REP_ID</text><text x="91.2" y="86.5">NUMBER(6)</text>
<text x="2" y="95.6">PROMOTION_ID</text><text x="91.2" y="95.6">NUMBER(6)</text>
</g></g>

<g id="oe2-customers" transform="translate(939.1,400.4)">
<rect class="oT" width="182.7" height="8.9"/><rect class="oH" y="8.9" width="182.7" height="9.2"/><rect class="oY" y="18.1" width="182.7" height="9.1"/>
<path class="gr" d="M0,8.9H182.7M0,18.1H182.7M0,27.2H182.7M0,36.3H182.7M0,45.3H182.7M0,54.4H182.7M0,63.5H182.7M0,72.6H182.7M0,81.7H182.7M0,90.7H182.7M0,99.8H182.7M0,108.9H182.7M0,118H182.7M0,127.1H182.7M0,136.1H182.7M0,145.2H182.7M71.4,8.9V154.3M106.9,8.9V154.3"/>
<rect class="bx" width="182.7" height="154.3"/>
<g class="o o2">
<text x="2" y="4.45">Table CUSTOMERS</text>
<text x="2" y="13.5">Name</text><text x="73.2" y="13.5">Null?</text><text x="108.7" y="13.5">Type</text>
<text x="2" y="22.6">CUSTOMER_ID</text><text x="73.2" y="22.6">NOT NULL</text><text x="108.7" y="22.6">NUMBER(6)</text>
<text x="2" y="31.7">CUST_FIRST_NAME</text><text x="73.2" y="31.7">NOT NULL</text><text x="108.7" y="31.7">VARCHAR2(20)</text>
<text x="2" y="40.8">CUST_FIRST_NAME</text><text x="73.2" y="40.8">NOT NULL</text><text x="108.7" y="40.8">VARCHAR2(20)</text>
<text x="2" y="49.9">CUST_ADDRESS</text><text x="108.7" y="49.9">CUST_ADDRESS_TYP</text>
<text x="2" y="59">PHONE_NUMBERS</text><text x="108.7" y="59">PHONE_LIST_TIP</text>
<text x="2" y="68">NLS_LANGUAGE</text><text x="108.7" y="68">VARCHAR2(3)</text>
<text x="2" y="77.1">NLS_TERRITORY</text><text x="108.7" y="77.1">VARCHAR2(30)</text>
<text x="2" y="86.2">CREDIT_LIMIT</text><text x="108.7" y="86.2">NUMBER(9,2)</text>
<text x="2" y="95.3">CUST_EMAIL</text><text x="108.7" y="95.3">VARCHAR2(30)</text>
<text x="2" y="104.4">ACCOUNT_MGR_ID</text><text x="108.7" y="104.4">NUMBER(6)</text>
<text x="2" y="113.4">CUST_GEO_LOCATION</text><text x="108.7" y="113.4">MDYS.SDO_GEOMETRY</text>
<text x="2" y="122.5">DATE_OF_BIRTH</text><text x="108.7" y="122.5">DATE</text>
<text x="2" y="131.6">MARITAL_STATUS</text><text x="108.7" y="131.6">VARCHAR2(20)</text>
<text x="2" y="140.7">GENDER</text><text x="108.7" y="140.7">VARCHAR2(1)</text>
<text x="2" y="149.8">INCOME_LEVEL</text><text x="108.7" y="149.8">VARCHAR2(20)</text>
</g></g>

<g id="oe2-product-information" transform="translate(609.4,538.8)">
<rect class="oT" width="171.8" height="9.2"/><rect class="oH" y="9.2" width="171.8" height="8.9"/><rect class="oG" y="18.1" width="171.8" height="9.2"/>
<path class="gr" d="M0,9.2H171.8M0,18.1H171.8M0,27.3H171.8M0,36.5H171.8M0,45.8H171.8M0,55H171.8M0,64.2H171.8M0,82.6H171.8M0,91.9H171.8M0,101.1H171.8M0,110.3H171.8M0,119.5H171.8M77.9,9.2V128.7M113.8,9.2V128.7"/>
<rect class="bx" width="171.8" height="128.7"/>
<g class="o o2">
<text x="2" y="4.6">Table PRODUCT INFORMATION</text>
<text x="2" y="13.65">Name</text><text x="79.7" y="13.65">Null?</text><text x="115.6" y="13.65">Type</text>
<text x="2" y="22.7">PRODUCT_ID</text><text x="79.7" y="22.7">NOT NULL</text><text x="115.6" y="22.7">NUMBER(6)</text>
<text x="2" y="31.9">PRODUCT_NAME</text><text x="115.6" y="31.9">VARCHAR2(50)</text>
<text x="2" y="41.15">PRODUCT_DESCRIPTION</text><text x="115.6" y="41.15">VARCHAR2(2000)</text>
<text x="2" y="50.4">CATEGORY_ID</text><text x="115.6" y="50.4">NUMBER(2)</text>
<text x="2" y="59.6">WEIGHT_CLASS</text><text x="115.6" y="59.6">NUMBER(1)</text>
<text x="2" y="68.8">WARRANTY_PERIOD</text><text x="115.6" y="68.8">INTERVALYEAR(2)</text>
<text x="115.6" y="78">TOMONTH</text>
<text x="2" y="87.25">SUPPLIER_ID</text><text x="115.6" y="87.25">NUMBER(6)</text>
<text x="2" y="96.5">PRODUCT_STATUS</text><text x="115.6" y="96.5">VARCHAR2(20)</text>
<text x="2" y="105.7">LIST_PRICE</text><text x="115.6" y="105.7">NUMBER(8,2)</text>
<text x="2" y="114.9">MIN_PRICE</text><text x="115.6" y="114.9">NUMBER(8,2)</text>
<text x="2" y="124.1">CATALOG_URL</text><text x="115.6" y="124.1">VARCHAR2(50)</text>
</g></g>

<g id="oe2-product-descriptions" transform="translate(804.7,573.6)">
<rect class="oT" width="185.2" height="9.2"/><rect class="oH" y="9.2" width="185.2" height="8.9"/><rect class="oG" y="18.1" width="185.2" height="9.4"/>
<path class="gr" d="M0,9.2H185.2M0,18.1H185.2M0,27.5H185.2M0,36.9H185.2M0,46.3H185.2M87.3,9.2V55.7M124.3,9.2V55.7"/>
<rect class="bx" width="185.2" height="55.7"/>
<g class="o o2">
<text x="2" y="4.6">Table PRODUCT DESCRIPTIONS</text>
<text x="2" y="13.65">Name</text><text x="89.1" y="13.65">Null?</text><text x="126.1" y="13.65">Type</text>
<text x="2" y="22.8">PRODUCT_ID</text><text x="89.1" y="22.8">NOT NULL</text><text x="126.1" y="22.8">NUMBER(6)</text>
<text x="2" y="32.2">LANGUAGE_ID</text><text x="89.1" y="32.2">NOT NULL</text><text x="126.1" y="32.2">VARCHAR2(3)</text>
<text x="2" y="41.6">TRANSLATED_NAME</text><text x="89.1" y="41.6">NOT NULL</text><text x="126.1" y="41.6">NVARCHAR2(50)</text>
<text x="2" y="51">TRANSLATED_DESCRIPTION</text><text x="89.1" y="51">NOT NULL</text><text x="126.1" y="51">NVARCHAR2(2000)</text>
</g></g>

<g id="oe2-inventories" transform="translate(797.8,637.7)">
<rect class="oT" width="148.2" height="9.1"/><rect class="oH" y="9.1" width="148.2" height="9.5"/><rect class="oG" y="18.6" width="148.2" height="9.37"/><rect class="oC" y="27.97" width="148.2" height="9.37"/>
<path class="gr" d="M0,9.1H148.2M0,18.6H148.2M0,28H148.2M0,37.3H148.2M72.5,9.1V46.7M108.4,9.1V46.7"/>
<rect class="bx" width="148.2" height="46.7"/>
<g class="o o2">
<text x="2" y="4.55">Table INVENTORIES</text>
<text x="2" y="13.85">Name</text><text x="74.3" y="13.85">Null?</text><text x="110.2" y="13.85">Type</text>
<text x="2" y="23.3">PRODUCT_ID</text><text x="74.3" y="23.3">NOT NULL</text><text x="110.2" y="23.3">NUMBER(6)</text>
<text x="2" y="32.6">WAREHOUSE_ID</text><text x="74.3" y="32.6">NOT NULL</text><text x="110.2" y="32.6">NUMBER(3)</text>
<text x="2" y="42">QUANTITY_ON_HAND</text><text x="74.3" y="42">NOT NULL</text><text x="110.2" y="42">NUMBER(8)</text>
</g></g>

<g id="oe2-warehouses" transform="translate(970.7,639.1)">
<rect class="oT" width="178.2" height="9.1"/><rect class="oH" y="9.1" width="178.2" height="8.9"/><rect class="oC" y="18" width="178.2" height="9.2"/>
<path class="gr" d="M0,9.1H178.2M0,18H178.2M0,27.2H178.2M0,36.4H178.2M0,45.6H178.2M0,54.8H178.2M65.9,9.1V64M102.1,9.1V64"/>
<rect class="bx" width="178.2" height="64"/>
<g class="o o2">
<text x="2" y="4.55">Table WAREHOUSES</text>
<text x="2" y="13.55">Name</text><text x="67.7" y="13.55">Null?</text><text x="103.9" y="13.55">Type</text>
<text x="2" y="22.6">WAREHOUSE_ID</text><text x="67.7" y="22.6">NOT NULL</text><text x="103.9" y="22.6">NUMBER(3)</text>
<text x="2" y="31.8">WAREHOUSE_SPEC</text><text x="103.9" y="31.8">SYS.XMLTYPE</text>
<text x="2" y="41">WAREHOUSE_NAME</text><text x="103.9" y="41">VARCHAR2(35)</text>
<text x="2" y="50.2">LOCATION_ID</text><text x="103.9" y="50.2">NUMBER(4)</text>
<text x="2" y="59.4">WH_GEO_LOCATION</text><text x="103.9" y="59.4">MDYS.SDO_GEOMETRY</text>
</g></g>

<!-- ================= connectors ================= -->
<g id="connectors">
<path class="dash" d="M157.3,146.5H181.2V34.2H211.3M157.3,138.7H174V2.6H397V36.4H417.7M19.5,130.9H7.5V231.1H16.2M183.8,231.1H191.6V159.6H196.3M196.3,167.5V349.4H210.8M391,175.4H408V36.4M391,191.2H401V161.1H389.9V34.2H371M391,183.3H408V250.4H370M384.3,427.6H409.3V391.9H420.2"/>
<path class="cf" d="M27.8,127.3L19.5,130.9L27.8,134.5M27.8,130.9H19.5M148.7,135.1L157.3,138.7L148.7,142.3M148.7,138.7H157.3M148.7,142.9L157.3,146.5L148.7,150.1M148.7,146.5H157.3M206.3,156L196.3,159.6L206.3,163.2M206.3,159.6H196.3M206.3,163.9L196.3,167.5L206.3,171.1M206.3,167.5H196.3M381.8,171.8L391,175.4L381.8,179M381.8,175.4H391M381.8,179.7L391,183.3L381.8,186.9M381.8,183.3H391M381.8,187.6L391,191.2L381.8,194.8M381.8,191.2H391M373.2,424L384.3,427.6L373.2,431.2M373.2,427.6H384.3"/>
<path class="dash" d="M371.3,512.9H386.6M248.8,550V569.5M278.5,541.6V559.7M375,612H357M166,673.3H185.6M469.5,568.1V588.1M460.5,646V664.1"/>
<path class="cf" d="M361.7,506.7L371.3,512.9L361.7,519.1M361.7,512.9H371.3M241,541.6L248.8,550L256.3,541.6M248.8,541.6V550M271.3,569.5L278.5,559.7L285.6,569.5M278.5,569.5V559.7M357,591.7L366,598.7L357,605.7M357,598.7H366M166.7,582L178.5,591.7L166.7,601.5M166.7,591.7H178.5M195.3,666.9L185.6,673.3L195.3,680M195.3,673.3H185.6M461.3,559.7L469.5,568.1L477.7,559.7M469.5,559.7V568.1M452.7,637.1L460.5,646L468.4,637.1M460.5,637.1V646M382.7,673.9L376.6,681.7L382.7,689.2M382.7,681.7H376.6"/>
<path class="sol" d="M366,598.7H375V612"/>
<path class="dot" d="M751.7,80.8H768.2M719.8,129.5V150.4M951.1,83H967.6M803.4,230.3H819.9M795,285.4H805.4M983.7,306.3H1001.8M741.3,465.6H756.9M712.3,507.3V528M923.6,466.4H939.1M789.5,597.3H804.7M781.2,645.5H791.3M954.4,665H970.7"/>
<path class="sol" d="M719.8,150.4V164.3M712.3,528V538.8"/>
<path class="cf" d="M743.2,73L751.7,80.8L743.2,88.6M743.2,80.8H751.7M713.3,122L719.8,129.5L726.7,122M719.8,122V129.5M942.7,73.8L951.1,83L942.7,91.9M942.7,83H951.1M795,222.8L803.4,230.3L795,238.1M795,230.3H803.4M813.8,278.5L805.4,285.4L813.8,292.4M813.8,285.4H805.4M974.9,299.4L983.7,306.3L974.9,313.3M974.9,306.3H983.7M734.1,458.1L741.3,465.6L734.1,473.4M734.1,465.6H741.3M706.2,501.2L712.3,507.3L718.9,501.2M712.3,501.2V507.3M916.3,459.4L923.6,466.4L916.3,474.7M916.3,466.4H923.6M781.2,590.3L789.5,597.3L781.2,604.2M781.2,597.3H789.5M797.8,637.7L791.3,645.5L797.8,653M797.8,645.5H791.3M946,657.1L954.4,665L946,672.5M946,665H954.4"/>
</g>

<!-- ================= right-side text blocks ================= -->
<g id="create-table" class="tm" font-size="16.8">
<text x="1209.9" y="13.2">CREATE TABLE order_item</text>
<text x="1209.9" y="35.4">(order_id NUMBER (3),</text>
<text x="1209.9" y="57.6">item-id NUMBER (2),</text>
<text x="1209.9" y="79.8">qty NUMBER (4),</text>
<text x="1209.9" y="102">CONSTRAINT ord_itm_id_pk</text>
<text x="1272.6" y="124.2">PRIMARY KEY (order_id, item_id)</text>
<text x="1262.9" y="146.4">USING INDEX</text>
<text x="1272.6" y="168.6">(CREATE INDEX ord_itm_idx</text>
<text x="1277.6" y="190.8">ON order_item (order_id, item_id)));</text>
</g>

<g id="promotions-right" transform="translate(1210.5,215.8)">
<rect fill="#d4eff5" width="324.3" height="16.7"/><rect fill="#a548a8" y="33.4" width="324.3" height="12.6"/>
<path class="ln" d="M0,16.7H324.3M147,16.7V146.2M232.5,16.7V146.2"/>
<rect width="324.3" height="146.2" fill="none" stroke="#555" stroke-width="1.1"/>
<g class="tm" transform="scale(0.876,1)" font-size="11.5">
<text x="4.8" y="8.4" font-weight="bold">Table PROMOTIONS</text>
<text x="5.7" y="27">Name</text><text x="179" y="27">Null?</text><text x="283.9" y="27">Type</text>
<text x="5.7" y="39">PROMO_ID</text><text x="179" y="39">NOT NULL</text><text x="283.9" y="39">NUMBER(6)</text>
<text x="5.7" y="51">PROMO_NAME</text><text x="179" y="51">NOT NULL</text><text x="283.9" y="51">VARCHAR2(30)</text>
<text x="5.7" y="63">PROMO_SUBCATEGORY</text><text x="179" y="63">NOT NULL</text><text x="283.9" y="63">VARCHAR2(30)</text>
<text x="5.7" y="75.2">PROMO_SUBCATEGORY_ID</text><text x="179" y="75.2">NOT NULL</text><text x="283.9" y="75.2">NUMBER</text>
<text x="5.7" y="87.2">PROMO_CATEGORY</text><text x="179" y="87.2">NOT NULL</text><text x="283.9" y="87.2">VARCHAR2(30)</text>
<text x="5.7" y="99.4">PROMO_CATEGORY_ID</text><text x="179" y="99.4">NOT NULL</text><text x="283.9" y="99.4">NUMBER</text>
<text x="5.7" y="111.4">PROMO_COST</text><text x="179" y="111.4">NOT NULL</text><text x="283.9" y="111.4">NUMBER(10,2)</text>
<text x="5.7" y="123.4">PROMO_BEGIN_DATE</text><text x="179" y="123.4">NOT NULL</text><text x="283.9" y="123.4">DATE</text>
<text x="5.7" y="135.6">PROMO_END_DATE</text><text x="179" y="135.6">NOT NULL</text><text x="283.9" y="135.6">DATE</text>
</g></g>

<g id="sales-tables" class="m mb" font-size="13.7">
<text x="1167.3" y="379">SALES1 table</text>
<text x="1167.3" y="395.1">Name</text><text x="1359.7" y="395.1">Null</text><text x="1474.5" y="395.1">Type</text>
<text x="1167.3" y="409.5">------------------</text><text x="1359.7" y="409.5">-------------</text><text x="1474.5" y="409.5">-----------</text>
<text x="1167.3" y="426.4">SALES_ID</text><text x="1474.5" y="426.4">NUMBER</text>
<text x="1167.3" y="441.7">STORE_ID</text><text x="1474.5" y="441.7">NUMBER</text>
<text x="1167.3" y="457.7">ITEMS_ID</text><text x="1474.5" y="457.7">NUMBER</text>
<text x="1167.3" y="473">QUANTITY</text><text x="1474.5" y="473">NUMBER</text>
<text x="1167.3" y="489.1">SALES_DATE</text><text x="1474.5" y="489.1">DATE</text>
<text x="1167.3" y="519.7">SALES2 table</text>
<text x="1167.3" y="535.8">Name</text><text x="1359.7" y="535.8">Null</text><text x="1474.5" y="535.8">Type</text>
<text x="1167.3" y="550.1">----------------</text><text x="1359.7" y="550.1">-------------</text><text x="1474.5" y="550.1">-----------</text>
<text x="1167.3" y="567.1">SALES_ID</text><text x="1474.5" y="567.1">NUMBER</text>
<text x="1167.3" y="582.4">STORE_ID</text><text x="1474.5" y="582.4">NUMBER</text>
<text x="1167.3" y="598.4">ITEMS_ID</text><text x="1474.5" y="598.4">NUMBER</text>
<text x="1167.3" y="614.1">QUANTITY</text><text x="1474.5" y="614.1">NUMBER</text>
<text x="1167.3" y="630.1">SALES_DATE</text><text x="1474.5" y="630.1">DATE</text>
</g>

<g id="employees-desc" class="m mb" font-size="13.4">
<text x="1167.3" y="658.1">Name</text><text x="1328.9" y="658.1">Null?</text><text x="1450.3" y="658.1">Type</text>
<text x="1167.3" y="671.9">-----------------</text><text x="1328.9" y="671.9">----- ------</text><text x="1450.3" y="671.9">------</text>
<text x="1167.3" y="687.9">EMPLOYEE_ID</text><text x="1328.9" y="687.9">NOT NULL</text><text x="1450.3" y="687.9">NUMBER(6)</text>
<text x="1167.3" y="703.9">FIRST_NAME</text><text x="1450.3" y="703.9">VARCHAR2(20)</text>
<text x="1167.3" y="718.9">LAST_NAME</text><text x="1328.9" y="718.9">NOT NULL</text><text x="1450.3" y="718.9">VARCHAR2(25)</text>
<text x="1167.3" y="734.2">EMAIL</text><text x="1328.9" y="734.2">NOT NULL</text><text x="1450.3" y="734.2">VARCHAR2(25)</text>
<text x="1167.3" y="749.3">PHONE NUMBER</text><text x="1450.3" y="749.3">VARCHAR2(20)</text>
<text x="1167.3" y="764">HIRE_DATE</text><text x="1328.9" y="764">NOT NULL</text><text x="1450.3" y="764">DATE</text>
<text x="1167.3" y="779.7">JOB_ID</text><text x="1328.9" y="779.7">NOT NULL</text><text x="1450.3" y="779.7">VARCHAR2(10)</text>
<text x="1167.3" y="794.7">SALARY</text><text x="1450.3" y="794.7">NUMBER(8,2)</text>
<text x="1167.3" y="810">COMMISSION_PCT</text><text x="1450.3" y="810">NUMBER(2,2)</text>
<text x="1167.3" y="825.1">MANAGER_ID</text><text x="1450.3" y="825.1">NUMBER(6)</text>
<text x="1167.3" y="840.4">DEPARTMENT_ID</text><text x="1450.3" y="840.4">NUMBER(4)</text>
</g>

<g id="orders-box">
<rect x="8.9" y="742.3" width="470.1" height="95" fill="none" stroke="#333" stroke-width="1.1"/>
<path class="ln" d="M165.3,742.3V837.3M295.7,742.3V837.3M8.9,762H479M8.9,799.7H479"/>
<text class="m" x="8.9" y="736.6" font-size="11" fill="#444">ORDERS</text>
<g class="m mb" font-size="11.7">
<text x="87" y="752.5" text-anchor="middle">Name</text><text x="243" y="752.5" text-anchor="middle">Null?</text><text x="400.6" y="752.5" text-anchor="middle">Type</text>
<text x="11.8" y="772">ORDER ID</text><text x="168.5" y="772">NOT NULL</text><text x="325.2" y="772">NUMBER(4)</text>
<text x="11.8" y="790.8" xml:space="preserve">ORDER  DATE</text><text x="325.2" y="790.8">DATE</text>
<text x="11.8" y="809.3">CUSTOMER ID</text><text x="325.2" y="809.3">NUMBER(3)</text>
<text x="11.8" y="827.5">ORDER TOTAL</text><text x="325.2" y="827.5">NUMBER(7,2)</text>
</g></g>

<g id="sql-tochar" class="m" font-size="20" fill="#3a3a3a">
<text x="8.9" y="860.2" textLength="467.5" lengthAdjust="spacingAndGlyphs">SQL&gt; SELECT TO_CHAR(NEXT_DAY(LAST_DAY(SYSDATE),'MON'),</text>
<text x="52.7" y="883.3" textLength="379.5" lengthAdjust="spacingAndGlyphs">'dd "is the first Monday for" fmmonth rrrr')</text>
<text x="52.7" y="906.4" textLength="86.5" lengthAdjust="spacingAndGlyphs">FROM DUAL;</text>
</g>

<g id="update-1" class="m" font-size="9.95">
<text x="482.2" y="870.5">UPDATE dept d</text>
<text x="494.1" y="880.4">SET city = (SELECT city</text>
<text x="560.7" y="891">FROM locations l</text>
<text x="560.7" y="901.9">WHERE d.location_id = l.location_id);</text>
</g>

<g id="member-desc" class="m" font-size="13.8">
<text x="566.3" y="722.1">Name</text><text x="732.5" y="722.1">Null?</text><text x="865.7" y="722.1">Type</text>
<text x="566.3" y="737.9">----------------</text><text x="732.5" y="737.9">-----------</text><text x="865.7" y="737.9">---------------------</text>
<text x="566.3" y="760.2">MEMBER_ID</text><text x="732.5" y="760.2">NOT NULL</text><text x="865.7" y="760.2">VARCHAR2 (6)</text>
<text x="566.3" y="775">FIRST_NAME</text><text x="865.7" y="775">VARCHAR2 (50)</text>
<text x="566.3" y="790.3">LAST_NAME</text><text x="732.5" y="790.3">NOT NULL</text><text x="865.7" y="790.3">VARCHAR2 (50)</text>
<text x="566.3" y="807">ADDRESS</text><text x="865.7" y="807">VARCHAR2 (50)</text>
<text x="566.3" y="822.3">CITY</text><text x="865.7" y="822.3">VARCHAR2 (25)</text>
<text x="566.3" y="838.2">STATE</text><text x="865.7" y="838.2">NOT NULL VARCHAR2 (3)</text>
</g>

<g id="dept-table">
<rect x="10.5" y="941.4" width="428.5" height="98.1" fill="none" stroke="#333" stroke-width="1.2"/>
<path d="M10.5,959H439" stroke="#333" stroke-width="1.5"/>
<g class="tm" transform="scale(0.88,1)" font-size="14.5">
<text x="14.5" y="933.8" font-weight="bold" font-size="15.5">DEPT</text>
<text x="14.5" y="949.7" font-weight="bold">Name</text><text x="241.6" y="949.7" font-weight="bold">Null?</text><text x="377.8" y="949.7" font-weight="bold">Type</text>
<text x="14.5" y="965.6">DEPARTMENT_ID</text><text x="377.8" y="965.6">NUMBER(4)</text>
<text x="14.5" y="981.8">DEPARTMENT_NAME</text><text x="241.6" y="981.8">NOT NULL</text><text x="377.8" y="981.8">VARCHAR2(30)</text>
<text x="14.5" y="997.6">MANAGER_ID</text><text x="377.8" y="997.6">NUMBER(6)</text>
<text x="14.5" y="1013.1">LOCATION_ID</text><text x="377.8" y="1013.1">NUMBER(4)</text>
<text x="14.5" y="1029">CITY</text><text x="377.8" y="1029">VARCHAR2(30)</text>
</g></g>

<g id="locations-table">
<rect x="9.6" y="1068.6" width="430.4" height="111.4" fill="none" stroke="#333" stroke-width="1.2"/>
<path d="M9.6,1084.5H440" stroke="#333" stroke-width="1.5"/>
<g class="tm" transform="scale(0.88,1)" font-size="14.5">
<text x="14.5" y="1060.4" font-weight="bold" font-size="15.5">LOCATIONS</text>
<text x="14.5" y="1076.9" font-weight="bold">Name</text><text x="241.6" y="1076.9" font-weight="bold">Null?</text><text x="377.8" y="1076.9" font-weight="bold">Type</text>
<text x="14.5" y="1092.4">LOCATION_ID</text><text x="241.6" y="1092.4">NOT NULL</text><text x="377.8" y="1092.4">NUMBER(4)</text>
<text x="14.5" y="1108.2">STREET_ADDRESS</text><text x="377.8" y="1108.2">VARCHAR2(40)</text>
<text x="14.5" y="1124.1">POSTAL_CODE</text><text x="377.8" y="1124.1">VARCHAR2(12)</text>
<text x="14.5" y="1139.7">CITY</text><text x="241.6" y="1139.7">NOT NULL</text><text x="377.8" y="1139.7">VARCHAR2(30)</text>
<text x="14.5" y="1155.2">STATE_PROVINCE</text><text x="377.8" y="1155.2">VARCHAR2(25)</text>
<text x="14.5" y="1171">COUNTRY_ID</text><text x="377.8" y="1171">CHAR(2)</text>
</g></g>

<g id="update-2" class="m" font-size="9.95">
<text x="1.6" y="1193.5">UPDATE dept d</text>
<text x="13.7" y="1204.1">SET city = (SELECT city</text>
<text x="79.9" y="1214">FROM locations l)</text>
<text x="13.7" y="1224.9">WHERE d.location_id = l.location_id;</text>
</g>
<g id="update-3" class="m" font-size="9.95">
<text x="236.6" y="1192.5">UPDATE dept d</text>
<text x="248.7" y="1203.4">SET city = ANY (SELECT city</text>
<text x="338.9" y="1214">FROM locations l)</text>
</g>

<g id="student-faculty" class="m mb" font-size="13.7">
<text x="454.1" y="935.3">STUDENT</text>
<text x="454.1" y="951.4">Name</text><text x="618.8" y="951.4">Null?</text><text x="785" y="951.4">Type</text>
<text x="454.1" y="965.3">------------------</text><text x="618.8" y="965.3">-------------------</text><text x="785" y="965.3">-------------</text>
<text x="454.1" y="983">STUDENT_ID</text><text x="618.8" y="983">NOT NULL</text><text x="785" y="983">NUMBER(2)</text>
<text x="454.1" y="997.7">STUDENT_NAME</text><text x="785" y="997.7">VARCHAR2(20)</text>
<text x="454.1" y="1013.1">FACULTY_ID</text><text x="785" y="1013.1">VARCHAR2(2)</text>
<text x="454.1" y="1029.8">LOCATION_ID</text><text x="785" y="1029.8">NUMBER(2)</text>
<text x="454.1" y="1060.8">FACULTY</text>
<text x="454.1" y="1075.8">Name</text><text x="618.8" y="1075.8">Null?</text><text x="785" y="1075.8">Type</text>
<text x="454.1" y="1089.8">------------------</text><text x="618.8" y="1089.8">-------------------</text><text x="785" y="1089.8">-------------</text>
<text x="454.1" y="1106.9">FACULTY_ID</text><text x="618.8" y="1106.9">NOT NULL</text><text x="785" y="1106.9">NUMBER(2)</text>
<text x="454.1" y="1122.2">FACULTY_NAME</text><text x="785" y="1122.2">VARCHAR2(20)</text>
<text x="454.1" y="1138.6">LOCATION_ID</text><text x="785" y="1138.6">NUMBER(2)</text>
</g>

<g id="alter-table" class="m mb" font-size="14.6">
<text x="458.3" y="1175.7">SQL&gt; ALTER TABLE books_transactions</text>
<text x="501.8" y="1192.8">ADD CONSTRAINT fk_book_id FOREIGN KEY (book_id)</text>
<text x="501.8" y="1209.8">REFERENCES books (book_id) ON DELETE CASCADE;</text>
</g>

<g id="stores-desc" class="m" font-size="11.2" fill="#444">
<text x="916.3" y="879.4">STORES table</text>
<text x="916.3" y="893.3">Name</text><text x="1055.1" y="893.3">Null</text><text x="1160" y="893.3">Type</text>
<text x="916.3" y="905">-----------------</text><text x="1055.1" y="905">-----</text><text x="1160" y="905">-------------</text>
<text x="916.3" y="919.5">STORE_ID</text><text x="1160" y="919.5">NUMBER</text>
<text x="916.3" y="932.1">NAME</text><text x="1160" y="932.1">VARCHAR2 (100)</text>
<text x="916.3" y="944.9">ADDRESS</text><text x="1160" y="944.9">VARCHAR2 (200)</text>
<text x="916.3" y="958">CITY</text><text x="1160" y="958">VARCHAR2 (100)</text>
<text x="916.3" y="970.5">COUNTRY</text><text x="1160" y="970.5">VARCHAR2 (100)</text>
<text x="916.3" y="983.8">START_DATE</text><text x="1160" y="983.8">DATE</text>
<text x="916.3" y="996.9">END_DATE</text><text x="1160" y="996.9">DATE</text>
<text x="916.3" y="1010.3">PROPERTY_PRICE</text><text x="1160" y="1010.3">NUMBER</text>
</g>

<g id="costs-right" transform="translate(1269.7,862.7)">
<rect fill="#d4eff5" width="292.9" height="16.7"/>
<rect fill="#2ba847" y="32.6" width="292.9" height="15.8"/><rect fill="#21a0e3" y="48.4" width="292.9" height="15.6"/><rect fill="#a346ad" y="64" width="292.9" height="15.9"/>
<path d="M0,16.7H292.9" stroke="#222" stroke-width="1.6"/>
<path class="ln" d="M0,32.6H292.9M0,48.4H292.9M0,64H292.9M0,79.9H292.9M101,16.7V130.1M192.3,16.7V130.1"/>
<rect width="292.9" height="130.1" fill="none" stroke="#333" stroke-width="1.2"/>
<g class="tm" transform="scale(0.92,1)" font-size="13.5">
<text x="4.46" y="8.4" font-weight="bold">Table COSTS</text>
<text x="4.46" y="24.7">Name</text><text x="130.5" y="24.7">Null?</text><text x="216" y="24.7">Type</text>
<text x="4.46" y="40.5">PROD_ID</text><text x="130.5" y="40.5">NOT NULL</text><text x="216" y="40.5">NUMBER</text>
<text x="4.46" y="56.2">TIME_ID</text><text x="130.5" y="56.2">NOT NULL</text><text x="216" y="56.2">DATE</text>
<text x="4.46" y="72">PROMO_ID</text><text x="130.5" y="72">NOT NULL</text><text x="216" y="72">NUMBER</text>
<text x="4.46" y="88.3">CHANNEL_ID</text><text x="130.5" y="88.3">NOT NULL</text><text x="216" y="88.3">NUMBER</text>
<text x="4.46" y="103.6">UNIT_COST</text><text x="130.5" y="103.6">NOT NULL</text><text x="216" y="103.6">NUMBER (10,2)</text>
<text x="4.46" y="118.9">UNIT_PRICE</text><text x="130.5" y="118.9">NOT NULL</text><text x="216" y="118.9">NUMBER (10,2)</text>
</g></g>

<g id="sql-prodid" class="m" font-size="12.7" fill="#3a3a3a">
<text x="904.4" y="1045.6" textLength="111.6" lengthAdjust="spacingAndGlyphs">SQL&gt; SELECT prod_id</text>
<text x="933.2" y="1062.3" textLength="59" lengthAdjust="spacingAndGlyphs">FROM costs</text>
<text x="933.2" y="1079.1" textLength="99.8" lengthAdjust="spacingAndGlyphs">WHERE promo_id IN</text>
<text x="1046.7" y="1079.1" textLength="184.7" lengthAdjust="spacingAndGlyphs">(SELECT promo_id FROM promotions</text>
<text x="1050.9" y="1096.3" textLength="128.3" lengthAdjust="spacingAndGlyphs">WHERE promo_cost &lt; ALL</text>
<text x="1058.1" y="1112.5" textLength="226.4" lengthAdjust="spacingAndGlyphs">(SELECT MAX(promo_cost) FROM promotions</text>
<text x="1062.8" y="1129.8" textLength="273.5" lengthAdjust="spacingAndGlyphs">GROUP BY (promo_end_date - promo_begin_date)));</text>
</g>

<g id="inv-desc" class="m" font-size="13.7">
<text x="933.2" y="1156.2">Name</text><text x="1098.9" y="1156.2">Null?</text><text x="1266.7" y="1156.2">Type</text>
<text x="933.2" y="1171.8">------------------</text><text x="1098.9" y="1171.8">-------------------</text><text x="1266.7" y="1171.8">-------------</text>
<text x="933.2" y="1187.7">INV_NO</text><text x="1098.9" y="1187.7">NOT NULL</text><text x="1266.7" y="1187.7">NUMBER(3)</text>
<text x="933.2" y="1203.6">INV_DATE</text><text x="1266.7" y="1203.6">DATE</text>
<text x="933.2" y="1219.7">INV_AMT</text><text x="1266.7" y="1219.7">NUMBER(10,2)</text>
</g>

</g>
</svg>
